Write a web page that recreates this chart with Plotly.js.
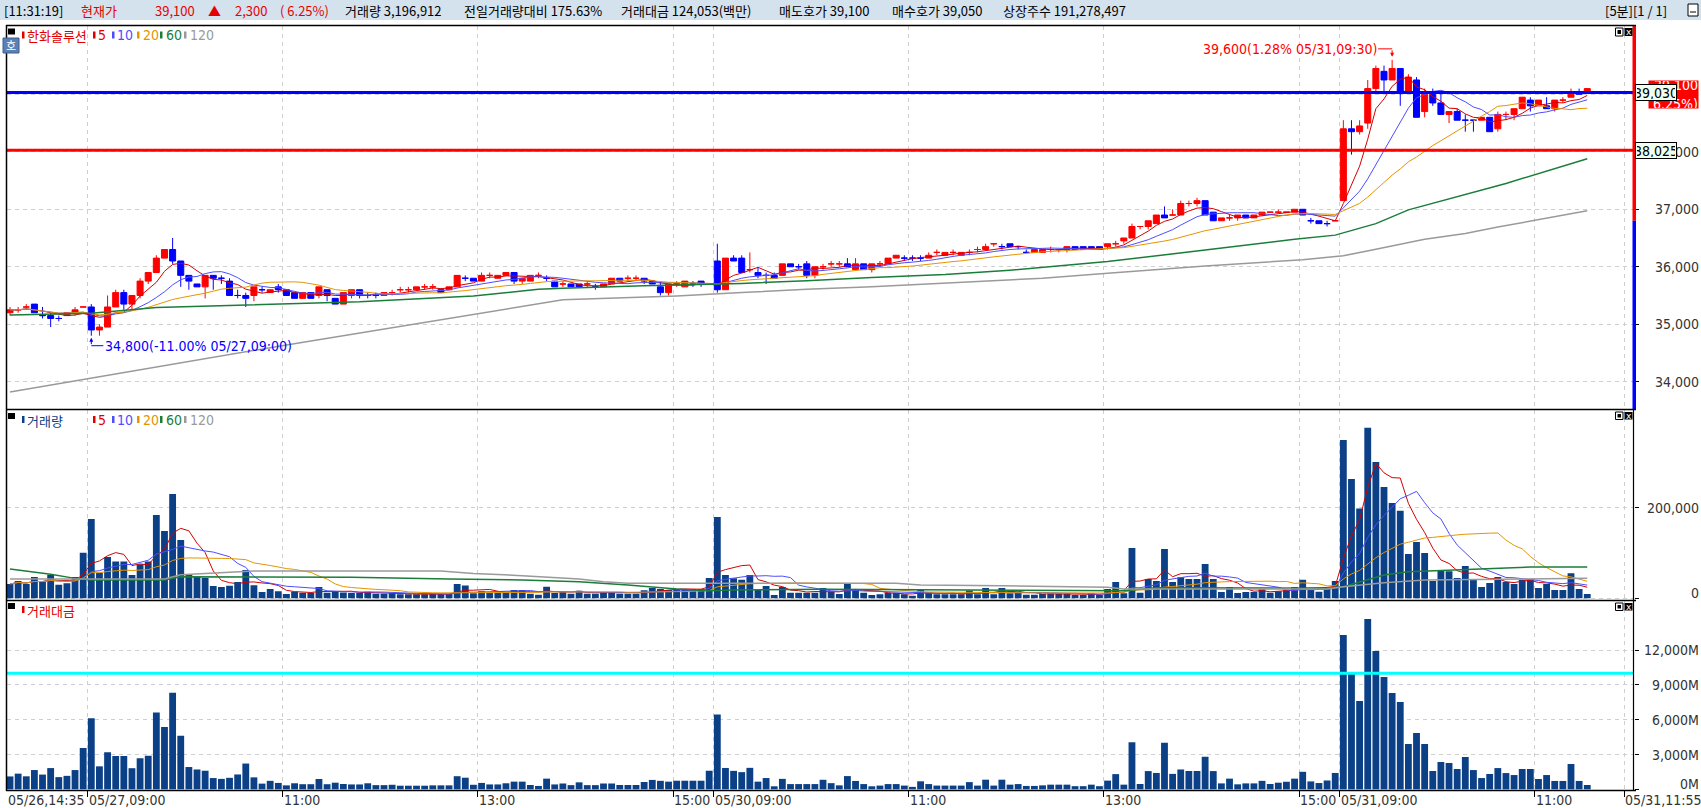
<!DOCTYPE html>
<html><head><meta charset="utf-8">
<script src="https://cdn.plot.ly/plotly-3.0.1.min.js"></script>
<style>html,body{margin:0;padding:0;background:#fff;overflow:hidden}#chart{width:1701px;height:808px}</style>
</head><body><div id="chart"></div>
<script>
// ---------------- DATA (5-minute bars) ----------------
const openP = [
35200,35250,35300,35350,35150,35150,35100,35150,35200,35300,
35300,34900,34950,35300,35550,35350,35500,35750,35900,36150,
36300,36100,35850,35700,35650,35850,35800,35750,35500,35500,
35500,35600,35550,35650,35600,35550,35450,35550,35500,35600,
35450,35350,35500,35600,35500,35500,35500,35550,35600,35600,
35600,35650,35650,35600,35600,35650,35800,35800,35750,35850,
35800,35850,35900,35750,35750,35850,35800,35750,35700,35700,
35700,35700,35650,35650,35700,35800,35800,35800,35800,35750,
35650,35550,35700,35650,35700,35750,35700,36100,35600,36150,
36150,35950,35900,35850,35850,35850,36050,36000,36050,35850,
36000,36050,36050,36050,35950,36050,35950,36050,36050,36150,
36150,36150,36150,36150,36250,36200,36250,36200,36250,36300,
36300,36400,36350,36400,36350,36250,36250,36250,36300,36300,
36300,36350,36350,36350,36350,36350,36400,36450,36500,36700,
36700,36750,36900,36900,36900,37100,37100,37150,36950,36800,
36850,36850,36900,36850,36900,36950,36950,36950,36950,37000,
36800,36800,36750,36800,37150,38400,38350,38500,39100,39400,
39250,39450,39050,39250,38700,39000,38850,38650,38700,38550,
38550,38550,38600,38400,38650,38650,38750,38900,38800,38800,
38750,38900,38950,39050,39050];
const highP = [
35300,35300,35350,35350,35300,35200,35150,35200,35300,35300,
35350,35000,35500,35600,35600,35500,35800,35900,36200,36300,
36500,36100,35850,35700,35850,35850,35850,35800,35600,35550,
35650,35650,35600,35700,35600,35550,35550,35550,35650,35600,
35450,35550,35600,35600,35550,35550,35550,35600,35650,35650,
35650,35700,35700,35600,35650,35850,35850,35800,35900,35900,
35850,35900,35900,35800,35850,35900,35850,35750,35750,35700,
35700,35750,35700,35700,35800,35800,35850,35850,35800,35750,
35750,35700,35750,35750,35750,35750,35700,36400,36150,36200,
36200,36250,36000,35900,35900,36050,36050,36050,36100,36000,
36050,36100,36100,36150,36150,36050,36050,36100,36150,36200,
36200,36200,36200,36250,36300,36250,36300,36250,36300,36350,
36400,36400,36400,36400,36350,36300,36300,36300,36350,36300,
36350,36350,36350,36350,36350,36400,36450,36500,36750,36700,
36800,36900,37050,37000,37150,37150,37200,37150,36950,36850,
36900,36900,36900,36900,36950,36950,37000,36950,37000,37000,
36850,36800,36800,36800,38550,38550,38550,39250,39500,39500,
39600,39450,39350,39300,39100,39100,39050,38700,38750,38650,
38550,38600,38600,38700,38700,38750,38950,38950,38900,38950,
38900,38950,39100,39100,39100];
const lowP = [
35150,35200,35250,35200,35100,34950,35050,35150,35150,35300,
34800,34800,34950,35300,35250,35250,35450,35700,35900,36150,
36050,35650,35600,35650,35450,35600,35700,35500,35450,35300,
35400,35550,35550,35550,35500,35450,35450,35450,35450,35400,
35350,35350,35450,35450,35450,35450,35500,35500,35550,35550,
35600,35600,35600,35550,35600,35650,35750,35750,35750,35800,
35800,35850,35700,35700,35750,35800,35750,35650,35650,35650,
35650,35650,35600,35650,35700,35750,35750,35750,35700,35700,
35500,35500,35650,35650,35650,35650,35700,35550,35600,36100,
35900,35900,35800,35700,35800,35850,36000,35950,35800,35800,
35950,36000,36000,36000,35950,35950,35900,36000,36050,36150,
36100,36100,36100,36150,36200,36200,36200,36200,36200,36250,
36300,36350,36300,36350,36300,36250,36250,36250,36250,36250,
36250,36300,36300,36300,36300,36300,36350,36400,36500,36650,
36650,36750,36850,36900,36900,37050,37050,36900,36800,36800,
36800,36800,36850,36850,36900,36950,36950,36950,36950,36900,
36750,36750,36700,36800,37150,37950,38300,38400,39050,39050,
39250,38800,39050,38600,38600,38800,38650,38500,38550,38350,
38350,38550,38350,38350,38550,38550,38750,38700,38800,38750,
38700,38850,38950,39000,39050];
const closeP = [
35250,35250,35300,35200,35150,35100,35100,35200,35250,35300,
34900,34950,35300,35550,35350,35500,35750,35900,36150,36300,
36100,35850,35750,35650,35850,35800,35800,35500,35500,35450,
35650,35600,35600,35600,35500,35450,35550,35450,35650,35500,
35350,35550,35600,35500,35500,35500,35550,35550,35600,35600,
35650,35650,35650,35550,35650,35850,35800,35750,35850,35850,
35850,35900,35750,35800,35850,35850,35800,35650,35700,35650,
35650,35700,35650,35700,35800,35750,35800,35800,35750,35700,
35550,35700,35700,35750,35700,35700,35700,35600,36150,36100,
35900,35950,35850,35850,35800,36050,36000,36000,35850,36000,
36000,36050,36050,36000,36050,35950,36050,36050,36150,36200,
36150,36150,36150,36200,36250,36250,36250,36250,36250,36300,
36350,36400,36350,36350,36350,36250,36300,36300,36300,36300,
36350,36300,36300,36300,36300,36400,36400,36500,36700,36700,
36800,36900,36850,36900,37100,37100,37150,36900,36800,36850,
36850,36900,36850,36900,36950,36950,36950,36950,37000,36900,
36800,36750,36750,36800,38400,38350,38450,39100,39450,39250,
39450,39050,39300,38600,39000,38850,38650,38700,38550,38550,
38550,38600,38350,38650,38650,38750,38950,38800,38900,38750,
38900,38900,39000,39000,39100];
const volume = [
31600,38200,31600,47000,36000,52000,30000,33000,47000,100700,
175000,56600,91000,81000,81000,51400,75000,81000,184000,148600,
230000,128700,53600,47800,44800,27000,25000,27900,36000,62500,
29000,13900,20500,15400,9500,14600,12400,12400,25000,12400,
16000,13000,11700,11700,14600,10200,10200,11000,8800,8800,
8800,8800,9500,9500,9500,31600,28000,11000,15400,11700,
11700,14600,18400,18400,10200,8000,25700,11700,13900,10200,
16900,10200,10200,14000,14000,10200,10200,10200,17700,22800,
20600,18400,20600,20600,20600,20600,44900,179500,51400,44000,
41000,51400,18400,27000,7300,25000,12400,12400,12400,12400,
22800,14600,9500,31600,19900,12400,7300,8800,12400,12400,
8800,5900,19000,12400,8800,8800,8800,8800,17000,8800,
22800,8800,22800,11000,12400,8000,8000,9500,11000,11000,
11000,7300,7300,11000,7300,20500,36000,11000,110900,12400,
42600,38200,108800,36000,46300,42600,42600,75700,42600,13900,
24900,11700,13900,13900,19800,12500,15400,17700,25000,41000,
18400,14700,20600,38300,349500,263400,198000,376700,301000,245800,
210400,193500,97900,124400,100000,38200,62500,59600,44900,71300,
41200,25000,33800,47000,36000,31600,41200,42700,22800,31600,
18400,18400,55200,20600,9600];
// 거래대금, millions of KRW
const amountM = [
1110,1350,1120,1660,1270,1830,1050,1160,1660,3550,
6130,1980,3190,2870,2870,1820,2670,2900,6620,5380,
8330,4620,1920,1710,1600,970,900,990,1280,2220,
1030,490,730,550,340,520,440,440,890,440,
570,460,420,420,520,360,360,390,310,310,
310,310,340,340,340,1130,1000,390,550,420,
420,520,660,660,370,290,920,420,500,360,
600,360,360,500,500,370,370,370,630,810,
730,660,740,740,740,740,1600,6440,1840,1590,
1480,1850,660,970,260,900,450,450,450,450,
820,530,340,1140,720,450,260,320,450,450,
320,210,690,450,320,320,320,320,620,320,
830,320,830,400,450,290,290,340,400,400,
400,270,270,400,270,750,1310,400,4060,460,
1570,1410,4010,1330,1710,1580,1580,2800,1570,510,
920,430,510,510,730,460,570,650,920,1510,
680,540,760,1410,13300,10110,7610,14680,11920,9680,
8300,7530,3900,4850,3900,1580,2350,2270,1750,2780,
1660,970,1320,1830,1400,1230,1750,1750,890,1230,
720,720,2180,720,370];
// long moving averages (they need history before the window)
const ma60PriceIdx = [0,10,18,30,43,57,65,68,78,90,98,106,115,123,127,135,147,158,163,168,172,176,179,184,194];
const ma60PriceVal = [35160,35190,35290,35340,35390,35490,35610,35625,35670,35710,35755,35815,35865,35940,35990,36090,36290,36480,36550,36750,36990,37145,37250,37450,37880];
const ma120PriceIdx = [0,34,68,82,90,98,106,115,123,127,135,147,159,164,168,174,179,183,194];
const ma120PriceVal = [33820,34640,35425,35490,35550,35610,35650,35710,35770,35800,35885,36015,36120,36190,36305,36480,36580,36690,36975];
const ma60VolIdx = [0,5,8,10,19,21,42,48,54,63,70,76,82,86,89,100,116,127,137,141,149,162,164,169,172,179,187,194];
const ma60VolVal = [64700,52900,44000,40400,40400,47800,46300,44000,42600,40400,36700,29400,20500,16800,18300,19800,18300,16900,16900,23500,23500,22000,25700,51400,58800,63200,69000,69000];
const ma120VolIdx = [0,19,21,30,53,57,63,70,73,76,109,112,122,130,135,137,162,164,169,174,183,194];
const ma120VolVal = [42600,42600,52000,60300,60300,55000,50000,42600,36700,33000,33000,29400,27900,26000,24200,20500,20500,25700,34500,40400,42600,44000];

const tickIdx  = [0,10,34,58,82,87,111,135,159,164,188,199];
const tickText = ['05/26,14:35','05/27,09:00','11:00','13:00','15:00','05/30,09:00','11:00','13:00','15:00','05/31,09:00','11:00','05/31,11:55'];
const priceTicks  = [34000,35000,36000,37000,38000,39000];
const volumeTicks = [0,200000];
const amountTicks = [0,3000,6000,9000,12000];
const levelBlue = 39030, levelRed = 38025, amountLevel = 10000;
const prevClose = 36800, lastPrice = 39100;
const maPeriods = [5,10,20,60,120];
const stockName = '한화솔루션';
const hiTime = '05/31,09:30', loTime = '05/27,09:00';
const headerItems = [
  ['[11:31:19]',3,'k'],['현재가',80,'r'],['39,100',154,'r'],['▲',207,'r'],['2,300',234,'r'],['( 6.25%)',279,'r'],
  ['거래량 3,196,912',344,'k'],['전일거래량대비 175.63%',463,'k'],['거래대금 124,053(백만)',620,'k'],
  ['매도호가 39,100',778,'k'],['매수호가 39,050',891,'k'],['상장주수 191,278,497',1002,'k'],['[5분][1 / 1]',1604,'k']];

// ---------------- LAYOUT HELPERS ----------------
const W=1701,H=808,ML=7,MR=67,MT=26,MB=18,PW=W-ML-MR,PH=H-MT-MB;
const px = x => (x-ML)/PW, py = y => (H-MB-y)/PH;
const NARROW = "'Liberation Sans Narrow','Arial Narrow','DejaVu Sans Condensed',sans-serif";
const KR = "'Noto Sans CJK KR',sans-serif";
const RED='#ff0000', BLUE='#0000ff', VOLC='#0b4087';
const MA_COL = ['#d40000','#4d4dff','#e59400','#1b7d3a','#9a9a9a'];
const xRange = [-0.37,199.75];
const gridVals = tickIdx.map(v=>v-0.45);

function sma(a,n){return a.map((_,i)=>{const s=Math.max(0,i-n+1);let t=0;for(let k=s;k<=i;k++)t+=a[k];return t/(i-s+1);});}
const xIdx = closeP.map((_,i)=>i);

const traces = [];
traces.push({type:'candlestick',x:xIdx,open:openP,high:highP,low:lowP,close:closeP,xaxis:'x',yaxis:'y',
  increasing:{line:{color:RED,width:1},fillcolor:RED},decreasing:{line:{color:BLUE,width:1},fillcolor:BLUE},
  whiskerwidth:0,hoverinfo:'skip',showlegend:false});
[5,10,20].forEach((n,k)=>traces.push({type:'scatter',mode:'lines',x:xIdx,y:sma(closeP,n),xaxis:'x',yaxis:'y',
  line:{color:MA_COL[k],width:1},hoverinfo:'skip'}));
traces.push({type:'scatter',mode:'lines',x:ma60PriceIdx,y:ma60PriceVal,xaxis:'x',yaxis:'y',line:{color:MA_COL[3],width:1.5},hoverinfo:'skip'});
traces.push({type:'scatter',mode:'lines',x:ma120PriceIdx,y:ma120PriceVal,xaxis:'x',yaxis:'y',line:{color:MA_COL[4],width:1.5},hoverinfo:'skip'});
traces.push({type:'bar',x:xIdx,y:volume,xaxis:'x2',yaxis:'y2',marker:{color:VOLC,line:{width:0}},hoverinfo:'skip'});
[5,10,20].forEach((n,k)=>traces.push({type:'scatter',mode:'lines',x:xIdx,y:sma(volume,n),xaxis:'x2',yaxis:'y2',
  line:{color:MA_COL[k],width:1},hoverinfo:'skip'}));
traces.push({type:'scatter',mode:'lines',x:ma60VolIdx,y:ma60VolVal,xaxis:'x2',yaxis:'y2',line:{color:MA_COL[3],width:1.5},hoverinfo:'skip'});
traces.push({type:'scatter',mode:'lines',x:ma120VolIdx,y:ma120VolVal,xaxis:'x2',yaxis:'y2',line:{color:MA_COL[4],width:1.5},hoverinfo:'skip'});
traces.push({type:'bar',x:xIdx,y:amountM,xaxis:'x3',yaxis:'y3',marker:{color:VOLC,line:{width:0}},hoverinfo:'skip'});

const GRID='#cfcfcf', GD='4px,4px';
function xa(anchor,extra){return Object.assign({domain:[0,1],range:xRange,anchor:anchor,showticklabels:false,tickvals:gridVals,
  showgrid:true,gridcolor:GRID,griddash:GD,gridwidth:1,zeroline:false,showline:false,ticks:'',fixedrange:true},extra||{});}
function ya(dom,range,tv){return {domain:dom,range:range,side:'right',anchor:'x',tickvals:tv,showticklabels:false,ticks:'outside',
  ticklen:4,tickcolor:'#000',tickwidth:1,showgrid:true,gridcolor:GRID,griddash:GD,zeroline:false,showline:false,fixedrange:true};}
const dPrice=[py(409.5),1], dVol=[py(600.5),py(409.5)], dAmt=[0,py(600.5)];

const shapes=[], ann=[];
function prect(x0,y0,x1,y1,fill,line,lw){shapes.push({type:'rect',xref:'paper',yref:'paper',x0:px(x0),x1:px(x1),y0:py(y0),y1:py(y1),
  fillcolor:fill,line:{color:line||fill,width:lw===undefined?0:lw},layer:'above'});}
function pline(x0,y0,x1,y1,col,w){shapes.push({type:'line',xref:'paper',yref:'paper',x0:px(x0),x1:px(x1),y0:py(y0),y1:py(y1),line:{color:col,width:w},layer:'above'});}
function ptext(t,x,y,col,size,fam,anchor){ann.push({xref:'paper',yref:'paper',x:px(x),y:py(y),text:t,showarrow:false,xanchor:anchor||'left',yanchor:'middle',
  font:{family:fam||KR,size:size||13,color:col||'#000'},borderpad:0});}

// header bar
prect(0,0,1701,20,'#d4e2ee');
headerItems.forEach(h=>ptext(h[0],h[1],10.5,h[2]==='r'?'#e60000':'#000',13,KR));
prect(1688,4,1698,16,'#fff','#000',1); pline(1690,12,1696,12,'#000',1);

// reference levels and price-range bar
shapes.push({type:'line',xref:'paper',yref:'y',x0:0,x1:1,y0:levelBlue,y1:levelBlue,line:{color:'#0000ff',width:3},layer:'above'});
shapes.push({type:'line',xref:'paper',yref:'y',x0:0,x1:1,y0:levelRed,y1:levelRed,line:{color:'#ff0000',width:3},layer:'above'});
shapes.push({type:'line',xref:'paper',yref:'y3',x0:0,x1:1,y0:amountLevel,y1:amountLevel,line:{color:'#00ffff',width:3},layer:'above'});
shapes.push({type:'rect',xref:'paper',yref:'y',x0:px(1632.5),x1:px(1636),y0:prevClose,y1:40189,fillcolor:'#ff0000',line:{width:0},layer:'above'});
shapes.push({type:'rect',xref:'paper',yref:'y',x0:px(1632.5),x1:px(1636),y0:33516,y1:prevClose,fillcolor:'#0000ff',line:{width:0},layer:'above'});

// panel frame
pline(6,25.5,1636,25.5,'#000',1.5);
pline(6,409.5,1636,409.5,'#000',1.5);
pline(6,600.5,1636,600.5,'#000',1.5);
pline(6,790.5,1636,790.5,'#000',1.5);
pline(6.5,25,6.5,791,'#000',1.5);
pline(1633.5,409,1633.5,791,'#000',1.2);

// panel legends
function legend(y,label,labelCol,withMA){
  prect(8,y-7,15,y-1,'#000');
  prect(22,y-4,24.5,y+3,labelCol); ptext(label,26,y,labelCol,13);
  if(withMA){const xs=[[93,97],[112,116],[137,142],[160,165],[184,189]];
    maPeriods.forEach((p,k)=>{const c=k===0?'#e00000':MA_COL[k];prect(xs[k][0],y-4,xs[k][0]+2.5,y+3,c);ptext(String(p),xs[k][1],y,c,14,NARROW);});}
}
legend(35.5,stockName,'#e00000',true);
legend(420,'거래량',VOLC,true);
legend(610,'거래대금','#e00000',false);
prect(3,38,19,53,'#5b80b3','#3d5f8f',1); ptext('호',11,45.5,'#fff',11,KR,'center');
// panel corner icons
[[28,36],[412,419.5],[603,610.5]].forEach(r=>{prect(1615.5,r[0],1623,r[1],'#fff','#000',1);prect(1617.5,r[0]+2,1621,r[1]-2,'#000');
  prect(1624.5,r[0],1632.5,r[1],'#000');ptext('x',1628.5,(r[0]+r[1])/2,'#fff',9,'DejaVu Sans','center');});

// right-axis labels (39,000 is hidden behind the price boxes in the reference; bottom labels sit inside their panel)
const fmt = v=>v.toLocaleString('en-US');
const LBL={family:NARROW,size:14,color:'#333'};
priceTicks.filter(v=>Math.abs(v-levelBlue)>100).forEach(v=>ann.push({xref:'paper',yref:'y',x:px(1700),y:v,xanchor:'right',yanchor:'middle',text:fmt(v),showarrow:false,font:LBL,borderpad:0}));
volumeTicks.forEach(v=>ann.push({xref:'paper',yref:'y2',x:px(1700),y:v,xanchor:'right',yanchor:'middle',yshift:v===0?5:0,text:fmt(v),showarrow:false,font:LBL,borderpad:0}));
amountTicks.forEach(v=>ann.push({xref:'paper',yref:'y3',x:px(1700),y:v,xanchor:'right',yanchor:'middle',yshift:v===0?5:0,text:fmt(v)+'M',showarrow:false,font:LBL,borderpad:0}));
// current price box and level boxes
ann.push({xref:'paper',yref:'paper',x:px(1648),y:py(80),xanchor:'left',yanchor:'top',width:49,height:27,align:'right',bgcolor:'#ff0000',
  text:fmt(lastPrice)+'<br>( '+((lastPrice-prevClose)/prevClose*100).toFixed(2)+'%)',showarrow:false,font:{family:NARROW,size:14,color:'#fff'},borderpad:0});
[levelBlue,levelRed].forEach(v=>ann.push({xref:'paper',yref:'y',x:px(1635),y:v,xanchor:'left',yanchor:'middle',width:38,height:13,
  text:fmt(v),showarrow:false,bgcolor:'#f0fff0',bordercolor:'#000',borderwidth:1,borderpad:1,font:{family:NARROW,size:14,color:'#000'}}));

// x-axis labels
tickIdx.forEach((v,k)=>ann.push({xref:'x3',yref:'paper',x:Math.max(v-0.45,xRange[0]+0.01),y:py(799.5),xanchor:'left',yanchor:'middle',
  text:tickText[k],showarrow:false,font:LBL,borderpad:0}));

// high / low markers
const maxHigh=Math.max(...highP), hiIdx=highP.indexOf(maxHigh);
const minLow=Math.min(...lowP), loIdx=lowP.indexOf(minLow);
const pct=v=>((v-lastPrice)/lastPrice*100).toFixed(2);
ann.push({xref:'x',yref:'y',x:hiIdx,y:maxHigh,xanchor:'right',yanchor:'middle',xshift:-14,yshift:11,showarrow:false,
  text:fmt(maxHigh)+'('+pct(maxHigh)+'% '+hiTime+')',font:{family:NARROW,size:14,color:'#ff0000'},borderpad:0});
ann.push({xref:'x',yref:'y',x:hiIdx,y:maxHigh,text:'',showarrow:true,ax:0,ay:-11,arrowhead:2,arrowsize:0.8,arrowwidth:1,arrowcolor:'#ff0000',standoff:3});
shapes.push({type:'line',xref:'x',yref:'y',xsizemode:'pixel',xanchor:hiIdx,x0:-14,x1:0,ysizemode:'pixel',yanchor:maxHigh,y0:11,y1:11,line:{color:'#ff0000',width:1},layer:'above'});
ann.push({xref:'x',yref:'y',x:loIdx,y:minLow,xanchor:'left',yanchor:'middle',xshift:13,yshift:-10,showarrow:false,
  text:fmt(minLow)+'('+pct(minLow)+'% '+loTime+')',font:{family:NARROW,size:14,color:'#0000ff'},borderpad:0});
ann.push({xref:'x',yref:'y',x:loIdx,y:minLow,text:'',showarrow:true,ax:0,ay:10,arrowhead:2,arrowsize:0.8,arrowwidth:1,arrowcolor:'#0000ff',standoff:2});
shapes.push({type:'line',xref:'x',yref:'y',xsizemode:'pixel',xanchor:loIdx,x0:0,x1:12,ysizemode:'pixel',yanchor:minLow,y0:-10,y1:-10,line:{color:'#0000ff',width:1},layer:'above'});

const layout={width:W,height:H,margin:{l:ML,r:MR,t:MT,b:MB,pad:0},paper_bgcolor:'#fff',plot_bgcolor:'#fff',showlegend:false,
  hovermode:false,bargap:0.16,boxgap:0.22,boxgroupgap:0.05,dragmode:false,
  xaxis:xa('y',{rangeslider:{visible:false}}),xaxis2:xa('y2',{matches:'x'}),
  xaxis3:xa('y3',{matches:'x',ticks:'outside',ticklen:6,tickcolor:'#000',tickwidth:1}),
  yaxis:ya(dPrice,[33516,40189],priceTicks),
  yaxis2:Object.assign(ya(dVol,[-4860,416800],volumeTicks),{anchor:'x2'}),
  yaxis3:Object.assign(ya(dAmt,[-60,16276],amountTicks),{anchor:'x3'}),
  shapes:shapes,annotations:ann};
Plotly.newPlot('chart',traces,layout,{staticPlot:true,displayModeBar:false});
</script></body></html>
